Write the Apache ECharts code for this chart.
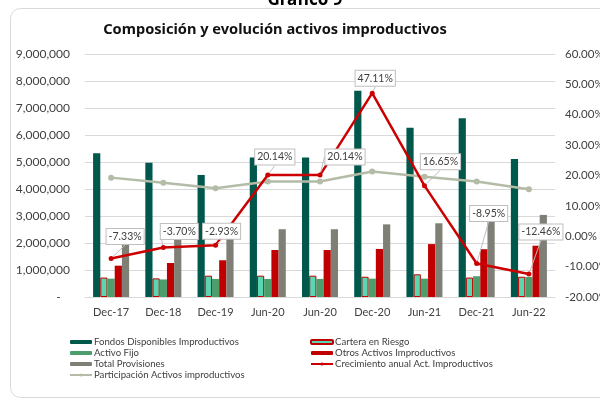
<!DOCTYPE html>
<html>
<head>
<meta charset="utf-8">
<script src="https://cdn.jsdelivr.net/npm/echarts@6/dist/echarts.min.js"></script>
<style>
  html, body { margin: 0; padding: 0; background: #fff; }
  #chart { width: 600px; height: 401px; }
</style>
</head>
<body>
<div id="chart"></div>
<script>
// periodos
var categories = ['Dec-17', 'Dec-18', 'Dec-19', 'Jun-20', 'Jun-20', 'Dec-20', 'Jun-21', 'Dec-21', 'Jun-22'];

// saldos (USD)
var fondosDisponibles = [5320000, 4970000, 4520000, 5170000, 5170000, 7640000, 6270000, 6620000, 5110000];
var carteraRiesgo     = [720000, 690000, 790000, 790000, 790000, 750000, 840000, 720000, 750000];
var activoFijo        = [680000, 650000, 670000, 670000, 670000, 680000, 680000, 770000, 740000];
var otrosActivos      = [1160000, 1260000, 1360000, 1740000, 1740000, 1780000, 1960000, 1770000, 1900000];
var totalProvisiones  = [1990000, 2140000, 2300000, 2510000, 2510000, 2690000, 2730000, 2830000, 3040000];

// porcentajes (eje derecho)
var crecimientoAnual  = [-7.33, -3.70, -2.93, 20.14, 20.14, 47.11, 16.65, -8.95, -12.46];
var participacion     = [19.3, 17.6, 15.8, 18.0, 18.0, 21.3, 19.6, 18.0, 15.5];

// desplazamiento de etiquetas (callouts)
var labelShift = [[14, -7], [16, -1], [6, 1], [7, -3], [25, -3], [3, 0], [16, -9], [12, -35], [12, -27]];

var font = 'Lato';
var txt = '#404040';

var myChart = echarts.init(document.getElementById('chart'));
var option = {
  animation: false,
  textStyle: { fontFamily: font },
  title: [{
    text: 'Gráfico 9',
    left: 300, textAlign: 'center', top: -13,
    textStyle: { fontFamily: 'Noto Sans', fontWeight: 'bold', fontSize: 17, color: '#000' }
  }, {
    text: 'Composición y evolución activos improductivos',
    left: 270, textAlign: 'center', top: 17,
    textStyle: { fontFamily: 'Noto Sans', fontWeight: 'bold', fontSize: 14.6, color: '#111' }
  }],
  graphic: [{
    type: 'rect',
    shape: { x: 10.5, y: 8.5, width: 620, height: 389, r: 10 },
    style: { fill: 'none', stroke: '#d9d9d9', lineWidth: 1 },
    z: -1
  }],
  legend: [{
    orient: 'vertical', left: 64, top: 332,
    itemWidth: 22, itemHeight: 4, itemGap: 1,
    textStyle: { fontSize: 9.6, color: txt, fontFamily: font, padding: [0, 0, 0, -3] },
    data: ['Fondos Disponibles Improductivos', 'Activo Fijo', 'Total Provisiones', 'Participación Activos improductivos']
  }, {
    orient: 'vertical', left: 305, top: 332,
    itemWidth: 22, itemHeight: 4, itemGap: 1,
    textStyle: { fontSize: 9.6, color: txt, fontFamily: font, padding: [0, 0, 0, -3] },
    data: ['Cartera en Riesgo', 'Otros Activos Improductivos', 'Crecimiento anual Act. Improductivos']
  }],
  grid: { left: 85, right: 45, top: 54, bottom: 104, outerBoundsMode: 'none', containLabel: false },
  xAxis: [{
    type: 'category',
    data: categories,
    axisTick: { show: false },
    axisLine: { lineStyle: { color: '#d9d9d9' } },
    axisLabel: { fontSize: 11, color: txt, margin: 10 }
  }],
  yAxis: [{
    type: 'value', min: 0, max: 9000000, interval: 1000000,
    axisLine: { show: false }, axisTick: { show: false },
    splitLine: { lineStyle: { color: '#d9d9d9' } },
    axisLabel: {
      fontSize: 12, color: txt, margin: 15,
      formatter: function (v) { return v === 0 ? '-   ' : v.toLocaleString('en-US'); }
    }
  }, {
    type: 'value', min: -20, max: 60, interval: 10,
    axisLine: { show: false }, axisTick: { show: false },
    splitLine: { show: false },
    axisLabel: {
      fontSize: 11.5, color: txt, margin: 10,
      formatter: function (v) { return v.toFixed(2) + '%'; }
    }
  }],
  series: [{
    name: 'Fondos Disponibles Improductivos', type: 'bar',
    barCategoryGap: '31%', barGap: '0%',
    itemStyle: { color: '#00574b' },
    data: fondosDisponibles
  }, {
    name: 'Cartera en Riesgo', type: 'bar',
    itemStyle: { color: '#5ad6b0', borderColor: '#c00000', borderWidth: 1 },
    data: carteraRiesgo
  }, {
    name: 'Activo Fijo', type: 'bar',
    itemStyle: { color: '#4c9e6c' },
    data: activoFijo
  }, {
    name: 'Otros Activos Improductivos', type: 'bar',
    itemStyle: { color: '#c00000' },
    data: otrosActivos
  }, {
    name: 'Total Provisiones', type: 'bar',
    itemStyle: { color: '#7f7f76' },
    data: totalProvisiones
  }, {
    name: 'Crecimiento anual Act. Improductivos', type: 'line', yAxisIndex: 1,
    symbol: 'circle', symbolSize: 5, z: 5,
    itemStyle: { color: '#cc0000' },
    lineStyle: { color: '#cc0000', width: 2.5 },
    label: {
      show: true, position: 'top', fontSize: 10.5, color: txt,
      backgroundColor: '#fff', borderColor: '#bfbfbf', borderWidth: 1, padding: [2, 2],
      formatter: function (p) { return p.value.toFixed(2) + '%'; }
    },
    labelLine: { show: true, lineStyle: { color: '#bfbfbf', width: 1 } },
    labelLayout: function (p) {
      var s = labelShift[p.dataIndex];
      return { dx: s[0], dy: s[1] };
    },
    data: crecimientoAnual
  }, {
    name: 'Participación Activos improductivos', type: 'line', yAxisIndex: 1,
    symbol: 'circle', symbolSize: 6, z: 4,
    itemStyle: { color: '#b4bca8' },
    lineStyle: { color: '#b4bca8', width: 2.5 },
    data: participacion
  }]
};
myChart.setOption(option);
</script>
</body>
</html>
